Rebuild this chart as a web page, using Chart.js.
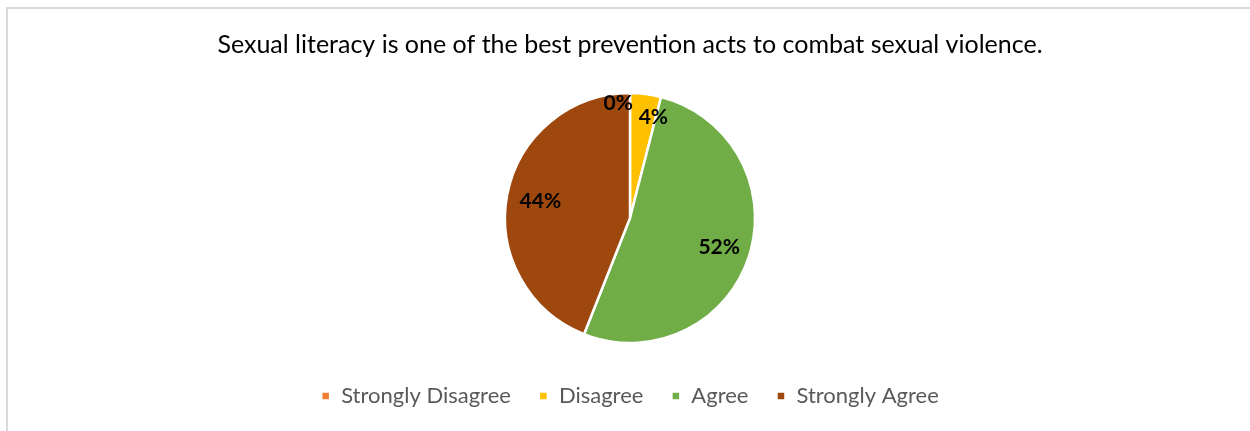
<!DOCTYPE html>
<html>
<head>
<meta charset="utf-8">
<script src="https://cdn.jsdelivr.net/npm/chart.js@4.4.1/dist/chart.umd.min.js"></script>
<style>
  html, body { margin: 0; padding: 0; background: #ffffff; overflow: hidden; }
  #frame { position: absolute; left: 6px; top: 7px; width: 1400px; height: 600px; border: 2px solid #d9d9d9; box-sizing: border-box; }
  #wrap { position: absolute; left: 0; top: 0; width: 1250px; height: 431px; }
</style>
</head>
<body>
<div id="frame"></div>
<div id="wrap"><canvas id="c" width="1250" height="431"></canvas></div>
<script>
// ---- data ----
const titleText = 'Sexual literacy is one of the best prevention acts to combat sexual violence.';
const categories = ['Strongly Disagree', 'Disagree', 'Agree', 'Strongly Agree'];
const percentages = [0, 4, 52, 44];
const sliceColors = ['#ED7D31', '#FFC000', '#70AD47', '#9E480E'];

// ---- label placement (style only) ----
const labelPlacement = [
  { frac: 0.92, align: 'right', dx: 3 },
  { frac: 0.81, align: 'left', dx: -4 },
  { frac: 0.75, align: 'center', dx: 0 },
  { frac: 0.73, align: 'center', dx: 0 }
];

const pctLabels = {
  id: 'pctLabels',
  afterDatasetsDraw(chart) {
    const ctx = chart.ctx;
    const meta = chart.getDatasetMeta(0);
    ctx.save();
    ctx.font = 'bold 21px Lato';
    ctx.fillStyle = '#000000';
    ctx.textBaseline = 'middle';
    meta.data.forEach((arc, i) => {
      const p = arc.getProps(['x', 'y', 'startAngle', 'endAngle', 'outerRadius'], true);
      const mid = (p.startAngle + p.endAngle) / 2;
      const pl = labelPlacement[i];
      const r = p.outerRadius * pl.frac;
      const x = p.x + Math.cos(mid) * r + pl.dx;
      const y = p.y + Math.sin(mid) * r;
      ctx.textAlign = pl.align;
      ctx.fillText(chart.data.datasets[0].data[i] + '%', x, y);
    });
    ctx.restore();
  }
};

new Chart(document.getElementById('c'), {
  type: 'pie',
  data: {
    labels: categories,
    datasets: [{
      data: percentages,
      backgroundColor: sliceColors,
      borderColor: '#ffffff',
      borderWidth: 2.5
    }]
  },
  options: {
    responsive: false,
    animation: false,
    radius: 125,
    layout: { padding: { left: 10, right: 0, top: 0, bottom: 14 } },
    plugins: {
      title: {
        display: true,
        text: titleText,
        color: '#000000',
        font: { family: 'Lato', size: 25, weight: 'normal', lineHeight: 1.2 },
        padding: { top: 30, bottom: 19 }
      },
      legend: {
        position: 'bottom',
        labels: {
          color: '#595959',
          font: { family: 'Lato', size: 22 },
          boxWidth: 9,
          boxHeight: 9,
          padding: 28
        }
      },
      tooltip: { enabled: false }
    }
  },
  plugins: [pctLabels]
});
</script>
</body>
</html>
